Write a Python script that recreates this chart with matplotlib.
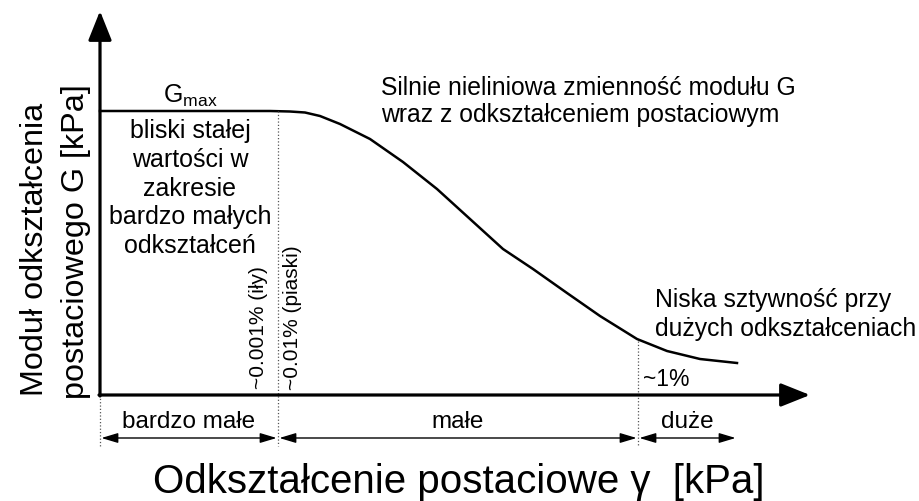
import matplotlib
matplotlib.use("Agg")
import matplotlib.pyplot as plt

plt.rcParams['font.family'] = ['Liberation Sans', 'DejaVu Sans']

# schematic coordinates (pixel-like units, y grows downward)
origin = (100, 396)
y_arrow_top = 12
x_arrow_end = 810
g_max_level = 112

# G(gamma) curve
curve_x = [100, 270, 290, 305, 320, 340, 370, 403, 437, 470, 503, 533, 567, 600, 637, 667, 700, 737]
curve_y = [112, 112, 112.5, 113.5, 117, 125, 140, 163, 190, 220, 250, 270, 294, 317, 340, 352, 360, 364]

# strain zones
zone_edges = [100, 278, 638, 737]
zone_labels = ['bardzo małe', 'małe', 'duże']
dim_y = 439

fig = plt.figure(figsize=(9.19, 5.02), dpi=100)
ax = fig.add_axes([0, 0, 1, 1])
ax.set_xlim(0, 919)
ax.set_ylim(502, 0)
ax.axis('off')

# axes with arrows
arrow_kw = dict(arrowstyle='-|>,head_length=0.9,head_width=0.36', mutation_scale=20,
                lw=2.3, color='black', shrinkA=0, shrinkB=0)
ax.annotate('', xy=(origin[0], y_arrow_top), xytext=(origin[0], origin[1] + 1), arrowprops=arrow_kw)
ax.annotate('', xy=(x_arrow_end, origin[1]), xytext=(origin[0] - 1, origin[1]), arrowprops=arrow_kw)

# curve
ax.plot(curve_x, curve_y, color='black', lw=1.8, solid_joinstyle='round')

# dotted guide lines
ax.plot([zone_edges[0], zone_edges[0]], [origin[1], 447], color='#555555', lw=0.9, ls=':')
ax.plot([zone_edges[1], zone_edges[1]], [g_max_level, 447], color='#555555', lw=0.9, ls=':')
ax.plot([zone_edges[2], zone_edges[2]], [342, 447], color='#555555', lw=0.9, ls=':')

# dimension arrows and zone labels
for i, lab in enumerate(zone_labels):
    x0, x1 = zone_edges[i], zone_edges[i + 1]
    ax.annotate('', xy=(x1, dim_y), xytext=(x0, dim_y),
                arrowprops=dict(arrowstyle='<|-|>,head_length=1.0,head_width=0.3', mutation_scale=10,
                                lw=1.0, color='black', shrinkA=1, shrinkB=1))
    ax.text((x0 + x1) / 2, 428, lab, ha='center', va='baseline', fontsize=17.5)

# labels
ax.text(190, 103, r'G$_{\mathregular{max}}$', ha='center', va='baseline', fontsize=18)
ax.text(190, 119, 'bliski stałej\nwartości w\nzakresie\nbardzo małych\nodkształceń',
        ha='center', va='top', fontsize=18, linespacing=1.25, multialignment='center')
ax.text(258, 389, '~0.001% (iły)', rotation=90, ha='center', va='bottom', fontsize=15)
ax.text(293, 390, '~0.01% (piaski)', rotation=90, ha='center', va='bottom', fontsize=15)
ax.text(381, 95, 'Silnie nieliniowa zmienność modułu G', ha='left', va='baseline', fontsize=17.8)
ax.text(381, 122, 'wraz z odkształceniem postaciowym', ha='left', va='baseline', fontsize=17.8)
ax.text(655, 307, 'Niska sztywność przy', ha='left', va='baseline', fontsize=17.8)
ax.text(655, 336, 'dużych odkształceniach', ha='left', va='baseline', fontsize=17.8)
ax.text(643, 386, '~1%', ha='left', va='baseline', fontsize=16.5)

ax.text(35, 396, 'Moduł odkształcenia', rotation=90, ha='center', va='bottom', fontsize=23.3)
ax.text(76, 399, 'postaciowego G [kPa]', rotation=90, ha='center', va='bottom', fontsize=23.3)
ax.text(459, 493, 'Odkształcenie postaciowe γ  [kPa]', ha='center', va='baseline', fontsize=29)

fig.savefig('out.png', dpi=100)
